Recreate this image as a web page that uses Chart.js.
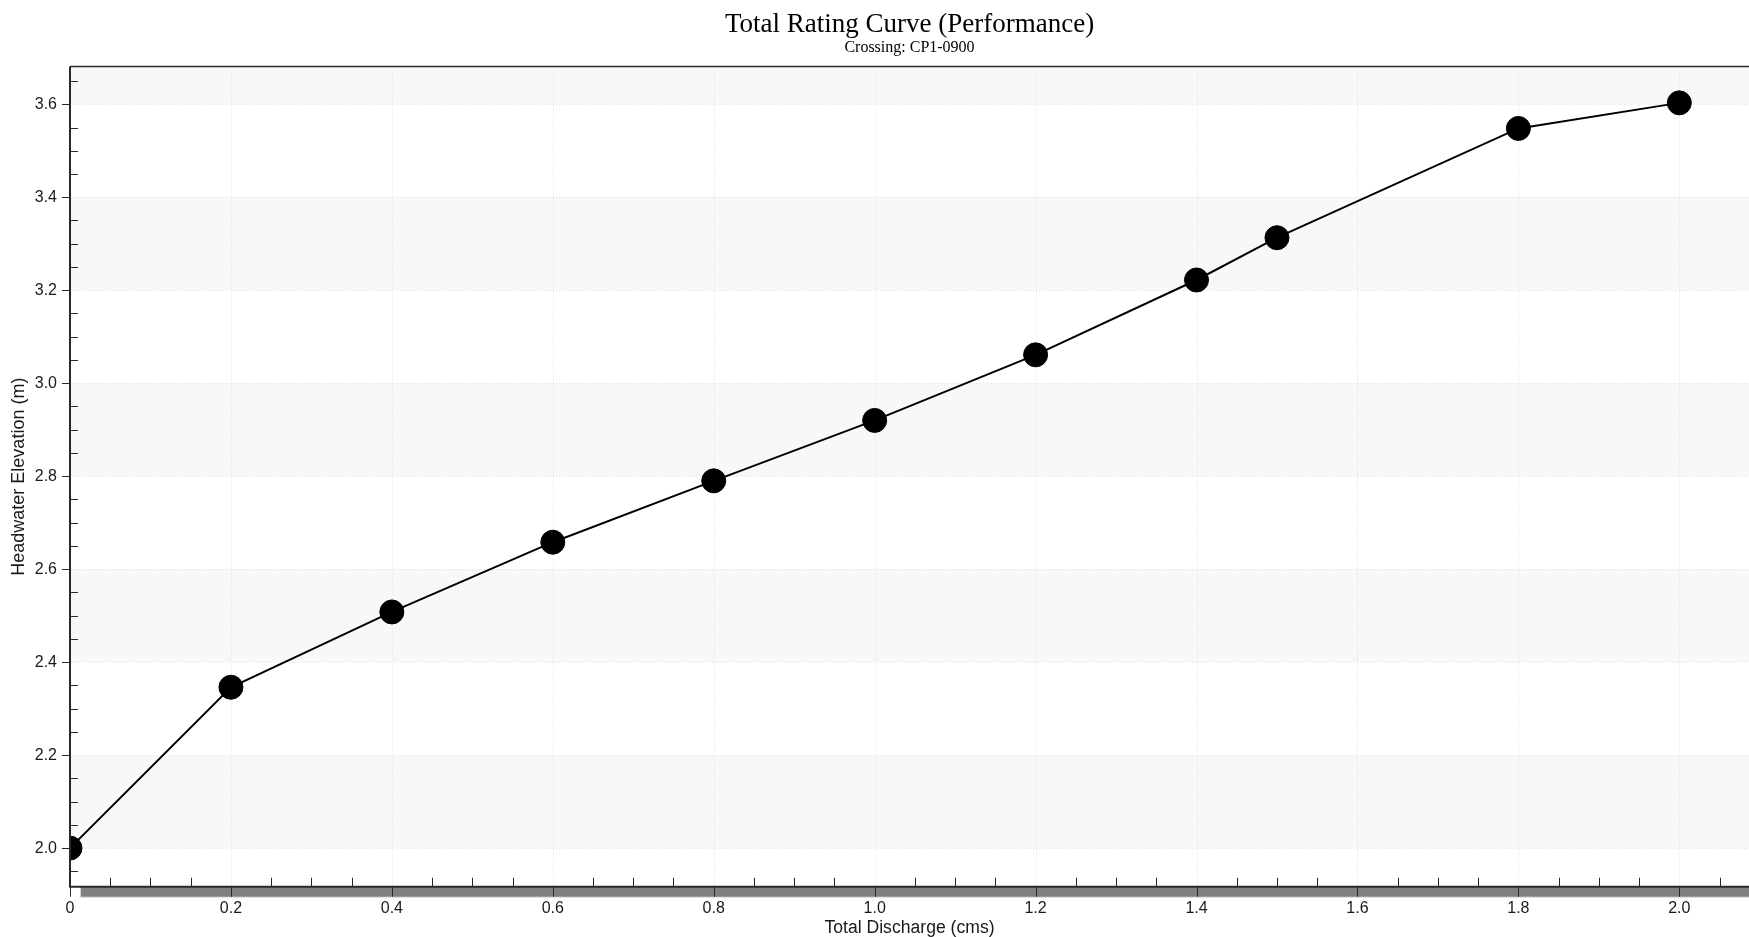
<!DOCTYPE html>
<html>
<head>
<meta charset="utf-8">
<title>Total Rating Curve (Performance)</title>
<script src="https://cdn.jsdelivr.net/npm/chart.js@4/dist/chart.umd.min.js"></script>
<style>
  html, body { margin: 0; padding: 0; background: #ffffff; }
  #wrap { width: 1749px; height: 937px; }
</style>
</head>
<body>
<div id="wrap"><canvas id="chart" width="1749" height="937"></canvas></div>
<script>
// Rating curve: total discharge (cms) vs headwater elevation (m)
const discharge = [0, 0.2, 0.4, 0.6, 0.8, 1.0, 1.2, 1.4, 1.5, 1.8, 2.0];
const elevation = [2.0, 2.346, 2.508, 2.658, 2.790, 2.920, 3.061, 3.222, 3.313, 3.548, 3.603];

// Axis ticks and labels
const xTickValues = [0, 0.2, 0.4, 0.6, 0.8, 1.0, 1.2, 1.4, 1.6, 1.8, 2.0];
const xTickLabels = ['0', '0.2', '0.4', '0.6', '0.8', '1.0', '1.2', '1.4', '1.6', '1.8', '2.0'];
const yTickValues = [2.0, 2.2, 2.4, 2.6, 2.8, 3.0, 3.2, 3.4, 3.6];
const yTickLabels = ['2.0', '2.2', '2.4', '2.6', '2.8', '3.0', '3.2', '3.4', '3.6'];
const xRange = [0, 2.0866];
const yRange = [1.917, 3.681];
const minorStep = 0.05;

const SANS = "'Liberation Sans', Arial, sans-serif";
const SERIF = "'Liberation Serif', 'Times New Roman', serif";

// Bands, dotted grid, axis frame, minor/major tick marks and the scroll strip
const decor = {
  id: 'decor',
  beforeDatasetsDraw(chart) {
    const { ctx, chartArea: a, scales: { x, y } } = chart;
    ctx.save();
    // alternating horizontal bands
    ctx.fillStyle = '#f8f8f8';
    for (let k = 0; k < yTickValues.length; k += 2) {
      const lo = yTickValues[k];
      const hi = k + 1 < yTickValues.length ? yTickValues[k + 1] : yRange[1];
      const yTop = y.getPixelForValue(hi);
      const yBot = y.getPixelForValue(lo);
      ctx.fillRect(a.left, yTop, a.right - a.left, yBot - yTop);
    }
    // dotted grid lines
    ctx.strokeStyle = '#e2e2e2';
    ctx.lineWidth = 1;
    ctx.setLineDash([1, 2]);
    ctx.beginPath();
    xTickValues.forEach(v => {
      if (v === xRange[0]) return;
      const px = Math.round(x.getPixelForValue(v)) + 0.5;
      ctx.moveTo(px, a.top);
      ctx.lineTo(px, a.bottom);
    });
    yTickValues.forEach(v => {
      const py = Math.round(y.getPixelForValue(v)) + 0.5;
      ctx.moveTo(a.left, py);
      ctx.lineTo(a.right, py);
    });
    ctx.stroke();
    ctx.restore();
  },
  afterDatasetsDraw(chart) {
    const { ctx, chartArea: a, scales: { x, y } } = chart;
    ctx.save();
    ctx.setLineDash([]);

    // scroll strip under the x axis
    ctx.fillStyle = '#d4d4d4';
    ctx.fillRect(a.left + 10, a.bottom, a.right - a.left - 10, 11);
    ctx.fillStyle = '#808080';
    ctx.fillRect(a.left + 11, a.bottom, a.right - a.left - 11, 10);

    ctx.strokeStyle = '#2a2a2a';
    ctx.lineWidth = 1;

    // minor ticks pointing into the plot
    ctx.beginPath();
    for (let v = xRange[0]; v <= xRange[1] + 1e-9; v += minorStep) {
      const r = Math.round(v * 100) / 100;
      if (xTickValues.some(t => Math.abs(t - r) < 1e-6)) continue;
      const px = Math.round(x.getPixelForValue(r)) + 0.5;
      ctx.moveTo(px, a.bottom);
      ctx.lineTo(px, a.bottom - 9);
    }
    for (let v = 1.95; v <= yRange[1] + 1e-9; v += minorStep) {
      const r = Math.round(v * 100) / 100;
      if (r < yRange[0]) continue;
      if (yTickValues.some(t => Math.abs(t - r) < 1e-6)) continue;
      const py = Math.round(y.getPixelForValue(r)) + 0.5;
      ctx.moveTo(a.left, py);
      ctx.lineTo(a.left + 8, py);
    }
    ctx.stroke();

    // major ticks pointing outward
    ctx.beginPath();
    xTickValues.forEach(v => {
      const px = Math.round(x.getPixelForValue(v)) + 0.5;
      ctx.moveTo(px, a.bottom);
      ctx.lineTo(px, a.bottom + 10);
    });
    yTickValues.forEach(v => {
      const py = Math.round(y.getPixelForValue(v)) + 0.5;
      ctx.moveTo(a.left - 8, py);
      ctx.lineTo(a.left, py);
    });
    ctx.stroke();

    // frame: left axis, bottom axis, top border
    ctx.strokeStyle = '#2a2a2a';
    ctx.lineWidth = 2;
    ctx.beginPath();
    ctx.moveTo(a.left, a.top);
    ctx.lineTo(a.left, a.bottom + 1);
    ctx.moveTo(a.left - 1, a.bottom);
    ctx.lineTo(a.right, a.bottom);
    ctx.stroke();
    ctx.lineWidth = 1.5;
    ctx.beginPath();
    ctx.moveTo(a.left, a.top);
    ctx.lineTo(a.right, a.top);
    ctx.stroke();
    ctx.restore();
  }
};

new Chart(document.getElementById('chart'), {
  type: 'scatter',
  data: {
    datasets: [{
      label: 'Total Rating Curve',
      data: discharge.map((q, i) => ({ x: q, y: elevation[i] })),
      showLine: true,
      borderColor: '#000000',
      borderWidth: 2,
      backgroundColor: '#000000',
      pointBackgroundColor: '#000000',
      pointBorderColor: '#000000',
      pointBorderWidth: 1,
      pointRadius: 12,
      pointHoverRadius: 12,
      tension: 0,
      clip: 0
    }]
  },
  options: {
    responsive: false,
    animation: false,
    devicePixelRatio: 1,
    layout: { padding: 0, autoPadding: false },
    plugins: {
      legend: { display: false },
      tooltip: { enabled: false },
      title: {
        display: true,
        text: 'Total Rating Curve (Performance)',
        fullSize: false,
        color: '#000000',
        font: { family: SERIF, size: 27, weight: 'normal', lineHeight: 1.0 },
        padding: { top: 11.3, bottom: 0 }
      },
      subtitle: {
        display: true,
        text: 'Crossing: CP1-0900',
        fullSize: false,
        color: '#000000',
        font: { family: SERIF, size: 16, weight: 'normal', lineHeight: 1.2 },
        padding: { top: 0, bottom: 9.1 }
      }
    },
    scales: {
      x: {
        type: 'linear',
        min: xRange[0],
        max: xRange[1],
        afterBuildTicks: s => { s.ticks = xTickValues.map(v => ({ value: v })); },
        afterFit: s => { s.height = 50.3; s.paddingLeft = 0; s.paddingRight = 0; },
        grid: { display: false, drawTicks: false },
        border: { display: false },
        ticks: {
          autoSkip: false,
          maxRotation: 0,
          padding: 12.7,
          color: '#1a1a1a',
          font: { family: SANS, size: 16 },
          callback: (v, i) => xTickLabels[i]
        },
        title: {
          display: true,
          text: 'Total Discharge (cms)',
          color: '#1a1a1a',
          font: { family: SANS, size: 17.6, lineHeight: 1.0 },
          padding: { top: 0, bottom: 0 }
        }
      },
      y: {
        type: 'linear',
        min: yRange[0],
        max: yRange[1],
        afterBuildTicks: s => { s.ticks = yTickValues.map(v => ({ value: v })); },
        afterFit: s => { s.width = 70; },
        grid: { display: false, drawTicks: false },
        border: { display: false },
        ticks: {
          autoSkip: false,
          padding: 13,
          color: '#1a1a1a',
          font: { family: SANS, size: 16 },
          callback: (v, i) => yTickLabels[i]
        },
        title: {
          display: true,
          text: 'Headwater Elevation (m)',
          color: '#1a1a1a',
          font: { family: SANS, size: 18, lineHeight: 1.0 },
          padding: { top: 10.5, bottom: 0 }
        }
      }
    }
  },
  plugins: [decor]
});
</script>
</body>
</html>
